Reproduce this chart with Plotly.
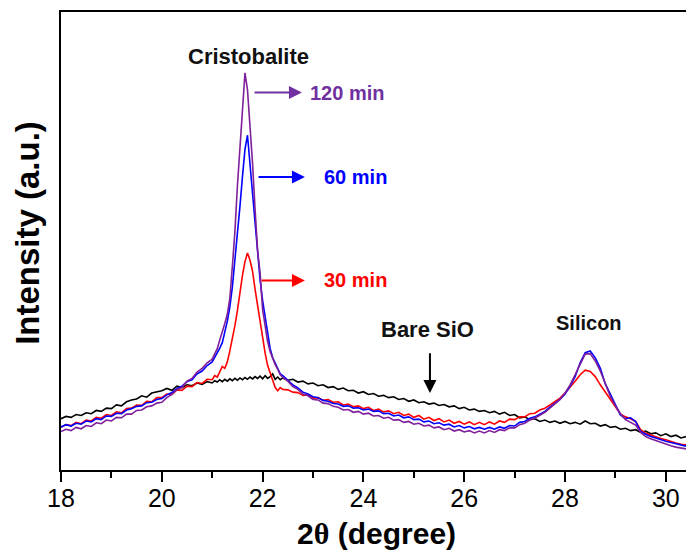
import plotly.graph_objects as go

# 2-theta sampling (degree)
two_theta = [
    18.0, 18.1, 18.2, 18.3, 18.4, 18.5, 18.6, 18.7, 18.8, 18.9,
    19.0, 19.1, 19.2, 19.3, 19.4, 19.5, 19.6, 19.7, 19.8, 19.9,
    20.0, 20.1, 20.2, 20.3, 20.4, 20.5, 20.6, 20.7, 20.8, 20.9,
    21.00, 21.05, 21.10, 21.15, 21.20, 21.25, 21.30, 21.35, 21.40, 21.45,
    21.50, 21.55, 21.60, 21.65, 21.70, 21.75, 21.80, 21.85, 21.90, 21.95,
    22.00, 22.05, 22.10, 22.15, 22.20, 22.25, 22.30, 22.35, 22.40,
    22.5, 22.6, 22.7, 22.8, 22.9, 23.0, 23.1, 23.2, 23.3, 23.4,
    23.5, 23.6, 23.7, 23.8, 23.9, 24.0, 24.1, 24.2, 24.3, 24.4,
    24.5, 24.6, 24.7, 24.8, 24.9, 25.0, 25.1, 25.2, 25.3, 25.4,
    25.5, 25.6, 25.7, 25.8, 25.9, 26.0, 26.1, 26.2, 26.3, 26.4,
    26.5, 26.6, 26.7, 26.8, 26.9, 27.0, 27.1, 27.2, 27.3, 27.4,
    27.5, 27.6, 27.7, 27.8, 27.9, 28.0, 28.1, 28.2, 28.3, 28.4,
    28.5, 28.6, 28.7, 28.8, 28.9, 29.0, 29.1, 29.2, 29.3, 29.4,
    29.5, 29.6, 29.7, 29.8, 29.9, 30.0, 30.1, 30.2, 30.3, 30.4,
]

bare_sio = [
    11.2, 11.7, 11.5, 12.1, 11.9, 12.5, 12.3, 13.0, 12.8, 13.5,
    13.4, 14.2, 14.0, 14.9, 15.3, 15.5, 16.2, 15.9, 16.8, 17.0,
    17.3, 17.8, 17.4, 18.3, 18.0, 18.6, 18.4, 19.0, 18.7, 19.3,
    19.0, 19.5, 19.2, 19.7, 19.3, 19.8, 19.4, 19.9, 19.5, 20.0,
    19.6, 20.1, 19.7, 20.2, 19.8, 20.3, 19.9, 20.4, 20.0, 20.5,
    19.9, 20.6, 20.0, 20.4, 21.0, 19.8, 20.3, 19.7, 20.1,
    19.6, 19.8, 19.2, 19.4, 18.8, 19.0, 18.4, 18.6, 18.0, 18.2,
    17.6, 17.9, 17.3, 17.4, 16.8, 17.1, 16.5, 16.7, 16.1, 16.3,
    15.8, 16.0, 15.4, 15.6, 15.0, 15.3, 14.7, 14.9, 14.4, 14.6,
    14.1, 14.3, 13.8, 14.0, 13.4, 13.7, 13.1, 13.3, 12.8, 13.0,
    12.5, 12.8, 12.2, 12.6, 11.9, 12.1, 11.4, 11.6, 11.0, 11.2,
    10.6, 10.9, 10.4, 10.7, 10.2, 10.6, 10.1, 10.4, 10.0, 10.7,
    10.1, 10.2, 9.6, 9.9, 9.3, 9.5, 8.9, 9.1, 8.6, 8.8,
    8.2, 8.5, 7.9, 8.1, 7.5, 7.9, 7.3, 7.6, 7.0, 7.3,
]

min_30 = [
    9.3, 9.9, 9.7, 10.4, 10.1, 10.9, 10.7, 11.5, 11.3, 12.1,
    11.9, 12.7, 12.5, 13.4, 13.5, 14.2, 14.1, 15.0, 14.9, 15.8,
    15.8, 16.6, 16.5, 17.5, 17.4, 18.3, 18.2, 19.1, 18.9, 19.8,
    19.7, 20.6, 20.3, 21.5, 22.6, 22.2, 23.6, 26.0, 28.6, 31.5,
    34.8, 39.0, 42.5, 45.5, 47.4, 45.8, 43.4, 39.5, 36.0, 32.0,
    28.8, 25.5, 22.8, 21.0, 19.6, 18.0, 17.3, 18.0, 17.6,
    17.5, 17.0, 16.9, 16.3, 16.4, 15.7, 15.8, 15.2, 15.4, 14.8,
    14.9, 14.2, 14.4, 13.8, 14.0, 13.4, 13.7, 13.0, 13.3, 12.7,
    12.9, 12.3, 12.6, 11.9, 12.2, 11.5, 11.9, 11.1, 11.5, 10.8,
    11.2, 10.5, 10.9, 10.2, 10.6, 10.0, 10.5, 9.9, 10.4, 9.9,
    10.5, 10.0, 10.7, 10.4, 11.1, 11.0, 11.6, 11.6, 12.3, 12.4,
    13.1, 13.5, 14.2, 15.0, 15.7, 16.8, 18.0, 19.4, 20.8, 21.8,
    21.5, 20.4, 18.6, 17.0, 15.6, 13.8, 12.2, 11.6, 11.2, 10.6,
    8.8, 8.0, 7.6, 7.2, 6.9, 6.6, 6.2, 5.9, 5.6, 5.5,
]

min_60 = [
    9.4, 9.9, 9.6, 10.2, 10.0, 10.7, 10.5, 11.2, 11.0, 11.8,
    11.7, 12.4, 12.3, 13.1, 13.4, 13.9, 14.0, 14.7, 14.8, 15.4,
    15.6, 16.4, 16.9, 17.8, 18.3, 19.3, 19.7, 21.0, 21.6, 22.8,
    23.6, 24.6, 25.3, 26.6, 27.8, 30.0, 32.5, 35.6, 40.0, 45.9,
    51.0, 57.5, 64.0, 70.0, 73.1, 67.0, 60.5, 53.5, 47.0, 41.5,
    37.0, 33.5, 29.0, 26.5, 24.5, 23.2, 22.3, 21.0, 20.6,
    19.6, 18.6, 17.9, 17.0, 16.6, 16.0, 15.8, 15.2, 15.0, 14.5,
    14.4, 13.9, 14.0, 13.5, 13.6, 13.1, 13.3, 12.8, 12.9, 12.3,
    12.4, 11.8, 12.0, 11.4, 11.6, 11.0, 11.1, 10.5, 10.7, 10.1,
    10.3, 9.8, 10.0, 9.4, 9.7, 9.2, 9.5, 9.0, 9.3, 8.9,
    9.3, 8.9, 9.4, 9.1, 9.7, 9.6, 10.4, 10.6, 11.3, 11.6,
    12.2, 12.8, 13.7, 14.6, 15.4, 16.6, 18.3, 20.4, 23.4, 25.6,
    26.0, 24.5, 22.2, 18.8, 16.5, 14.4, 12.0, 11.2, 11.4, 10.6,
    8.4, 7.8, 7.3, 7.0, 6.6, 6.3, 6.0, 5.7, 5.4, 5.2,
]

min_120 = [
    8.4, 8.9, 8.6, 9.3, 9.0, 9.7, 9.5, 10.3, 10.1, 10.9,
    10.7, 11.5, 11.4, 12.2, 12.2, 13.0, 13.1, 13.8, 14.0, 14.6,
    14.8, 15.8, 16.5, 17.6, 18.0, 19.4, 20.0, 21.4, 22.2, 23.4,
    24.2, 25.3, 26.5, 28.4, 30.0, 32.0, 34.0, 37.5, 44.5, 52.0,
    62.0, 70.5, 77.5, 86.7, 83.0, 76.0, 67.0, 57.0, 48.0, 43.0,
    35.0, 31.5, 28.0, 25.8, 24.2, 23.0, 22.0, 20.8, 20.2,
    19.4, 18.2, 17.6, 16.6, 16.2, 15.4, 15.3, 14.6, 14.5, 13.9,
    13.7, 13.1, 13.2, 12.6, 12.8, 12.2, 12.4, 11.8, 11.9, 11.3,
    11.5, 10.9, 11.0, 10.4, 10.6, 10.0, 10.2, 9.6, 9.8, 9.2,
    9.4, 8.8, 9.1, 8.5, 8.8, 8.3, 8.6, 8.1, 8.5, 8.1,
    8.6, 8.2, 8.8, 8.6, 9.2, 9.2, 9.9, 10.2, 10.9, 11.3,
    11.9, 12.6, 13.5, 14.5, 15.4, 16.8, 18.6, 20.8, 23.2, 25.3,
    25.4, 23.8, 21.6, 18.6, 16.0, 14.0, 12.3, 11.0, 10.4, 9.8,
    8.2, 7.3, 6.8, 6.4, 6.0, 5.7, 5.3, 5.0, 4.8, 4.6,
]

x_ticks = [18, 20, 22, 24, 26, 28, 30]
x_tick_labels = ["18", "20", "22", "24", "26", "28", "30"]

FONT = "Liberation Sans, Arial, sans-serif"
PURPLE_LINE = "#7F1F9A"
PURPLE_TEXT = "#7030A0"

fig = go.Figure()
series = [
    ("Bare SiO", bare_sio, "#000000"),
    ("30 min", min_30, "#FF0000"),
    ("60 min", min_60, "#0000FF"),
    ("120 min", min_120, PURPLE_LINE),
]
for name, vals, col in series:
    fig.add_trace(go.Scatter(x=two_theta, y=vals, mode="lines", name=name,
                             line=dict(color=col, width=1.6), showlegend=False))

annotations = []
# text labels
for txt, xx, yy, sz in [("Cristobalite", 21.71, 90.2, 22), ("Bare SiO", 25.28, 30.6, 22),
                        ("Silicon", 28.48, 32.1, 20)]:
    annotations.append(dict(x=xx, y=yy, xref="x", yref="y", text="<b>%s</b>" % txt,
                            showarrow=False, font=dict(family=FONT, size=sz, color="#111111"),
                            xanchor="center", yanchor="middle"))
for label, ypos, col in [("120 min", 82.4, PURPLE_TEXT), ("60 min", 64.0, "#0000FF"),
                         ("30 min", 41.4, "#FF0000")]:
    xl = 22.90 if label == "120 min" else 23.17
    annotations.append(dict(x=xl, y=ypos, xref="x", yref="y", text="<b>%s</b>" % label,
                            showarrow=False, font=dict(family=FONT, size=20, color=col),
                            xanchor="left", yanchor="middle"))
# horizontal arrows
for x0, x1, ypos, col in [(21.81, 22.78, 82.4, PURPLE_TEXT), (21.89, 22.84, 64.0, "#0000FF"),
                          (21.95, 22.84, 41.4, "#FF0000")]:
    annotations.append(dict(x=x1, y=ypos, ax=x0, ay=ypos, xref="x", yref="y",
                            axref="x", ayref="y", text="", showarrow=True,
                            arrowhead=2, arrowsize=1.3, arrowwidth=2, arrowcolor=col))
# vertical arrow for bare SiO
annotations.append(dict(x=25.32, y=16.8, ax=25.32, ay=25.8, xref="x", yref="y",
                        axref="x", ayref="y", text="", showarrow=True,
                        arrowhead=2, arrowsize=1.3, arrowwidth=2, arrowcolor="#000000"))
# axis titles
annotations.append(dict(x=-0.053, y=0.5175, xref="paper", yref="paper",
                        text="<b>Intensity (a.u.)</b>", textangle=-90, showarrow=False,
                        font=dict(family=FONT, size=33, color="#000000"),
                        xanchor="center", yanchor="middle"))
annotations.append(dict(x=0.504, y=-0.1376, xref="paper", yref="paper",
                        text="<b>2<span style='font-family:Liberation Serif'>θ</span> (degree)</b>",
                        showarrow=False, font=dict(family=FONT, size=30, color="#000000"),
                        xanchor="center", yanchor="middle"))

fig.update_layout(
    width=686, height=550,
    margin=dict(l=61, r=0, t=12, b=80),
    plot_bgcolor="#FFFFFF", paper_bgcolor="#FFFFFF",
    annotations=annotations,
    showlegend=False,
)
fig.update_xaxes(range=[18, 30.4], tickvals=x_ticks, ticktext=x_tick_labels,
                 ticks="outside", ticklen=10, tickwidth=2, tickcolor="#000000",
                 ticklabelstandoff=-5,
                 minor=dict(dtick=1, tick0=18, ticks="outside", ticklen=6, tickwidth=2,
                            tickcolor="#000000"),
                 showline=True, linewidth=2, linecolor="#000000", mirror=True,
                 showgrid=False, zeroline=False,
                 tickfont=dict(family=FONT, size=25, color="#000000"))
fig.update_yaxes(range=[0, 100], showticklabels=False, ticks="",
                 showline=True, linewidth=2, linecolor="#000000", mirror=False,
                 showgrid=False, zeroline=False)

fig.write_html("out.html", config={"displayModeBar": False},
               post_script="document.body.style.margin='0px';")
